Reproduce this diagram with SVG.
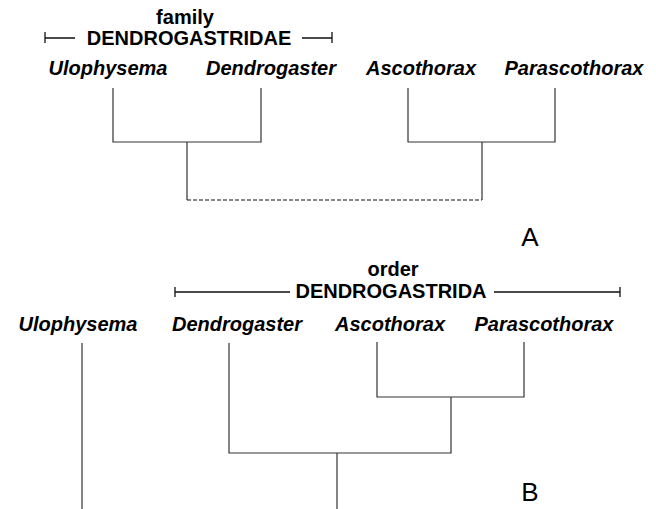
<svg xmlns="http://www.w3.org/2000/svg" width="656" height="509" viewBox="0 0 656 509">
<style>
text{font-family:"Liberation Sans",Arial,sans-serif;fill:#000}
.tx{font-size:20px;font-weight:bold;font-style:italic;text-anchor:middle}
.grp{font-size:20px;font-weight:bold;text-anchor:middle}
.lbl{font-size:26px;text-anchor:middle}
.ln{fill:none;stroke:#333;stroke-width:1.2}
.br{fill:none;stroke:#111;stroke-width:1.3}
.dash{fill:none;stroke:#111;stroke-width:1.2;stroke-dasharray:4 2}
</style>
<rect width="656" height="509" fill="#fff"/>
<!-- Part A -->
<g id="A-family">
<text class="grp" x="185" y="24">family</text>
<text class="grp" x="189" y="45">DENDROGASTRIDAE</text>
<path class="br" d="M45,38H75M45,32V43M302,38H332M332,32V43"/>
</g>
<g id="A-ulophysema"><text class="tx" x="108" y="75">Ulophysema</text></g>
<g id="A-dendrogaster"><text class="tx" x="271" y="75">Dendrogaster</text></g>
<g id="A-ascothorax"><text class="tx" x="421" y="75">Ascothorax</text></g>
<g id="A-parascothorax"><text class="tx" x="574" y="75">Parascothorax</text></g>
<g id="A-label"><text class="lbl" x="530" y="246">A</text></g>
<!-- Part B -->
<g id="B-order">
<text class="grp" x="393" y="276">order</text>
<text class="grp" x="391" y="298">DENDROGASTRIDA</text>
<path class="br" d="M175,292H290M175,287V297M494,292H620M620,287V297"/>
</g>
<g id="B-ulophysema"><text class="tx" x="78" y="331">Ulophysema</text></g>
<g id="B-dendrogaster"><text class="tx" x="237" y="331">Dendrogaster</text></g>
<g id="B-ascothorax"><text class="tx" x="390" y="331">Ascothorax</text></g>
<g id="B-parascothorax"><text class="tx" x="544" y="331">Parascothorax</text></g>
<g id="B-label"><text class="lbl" x="530" y="501">B</text></g>
<g id="connectors">
<path class="ln" d="M113,88V142H261V88M187,142V200"/>
<path class="ln" d="M408,88V142H555V88M482,142V200"/>
<path class="dash" d="M187,200H482"/>
<path class="ln" d="M82,343V509"/>
<path class="ln" d="M377,342V397H524V342M451,397V453H229V343M337,453V509"/>
</g>
</svg>
